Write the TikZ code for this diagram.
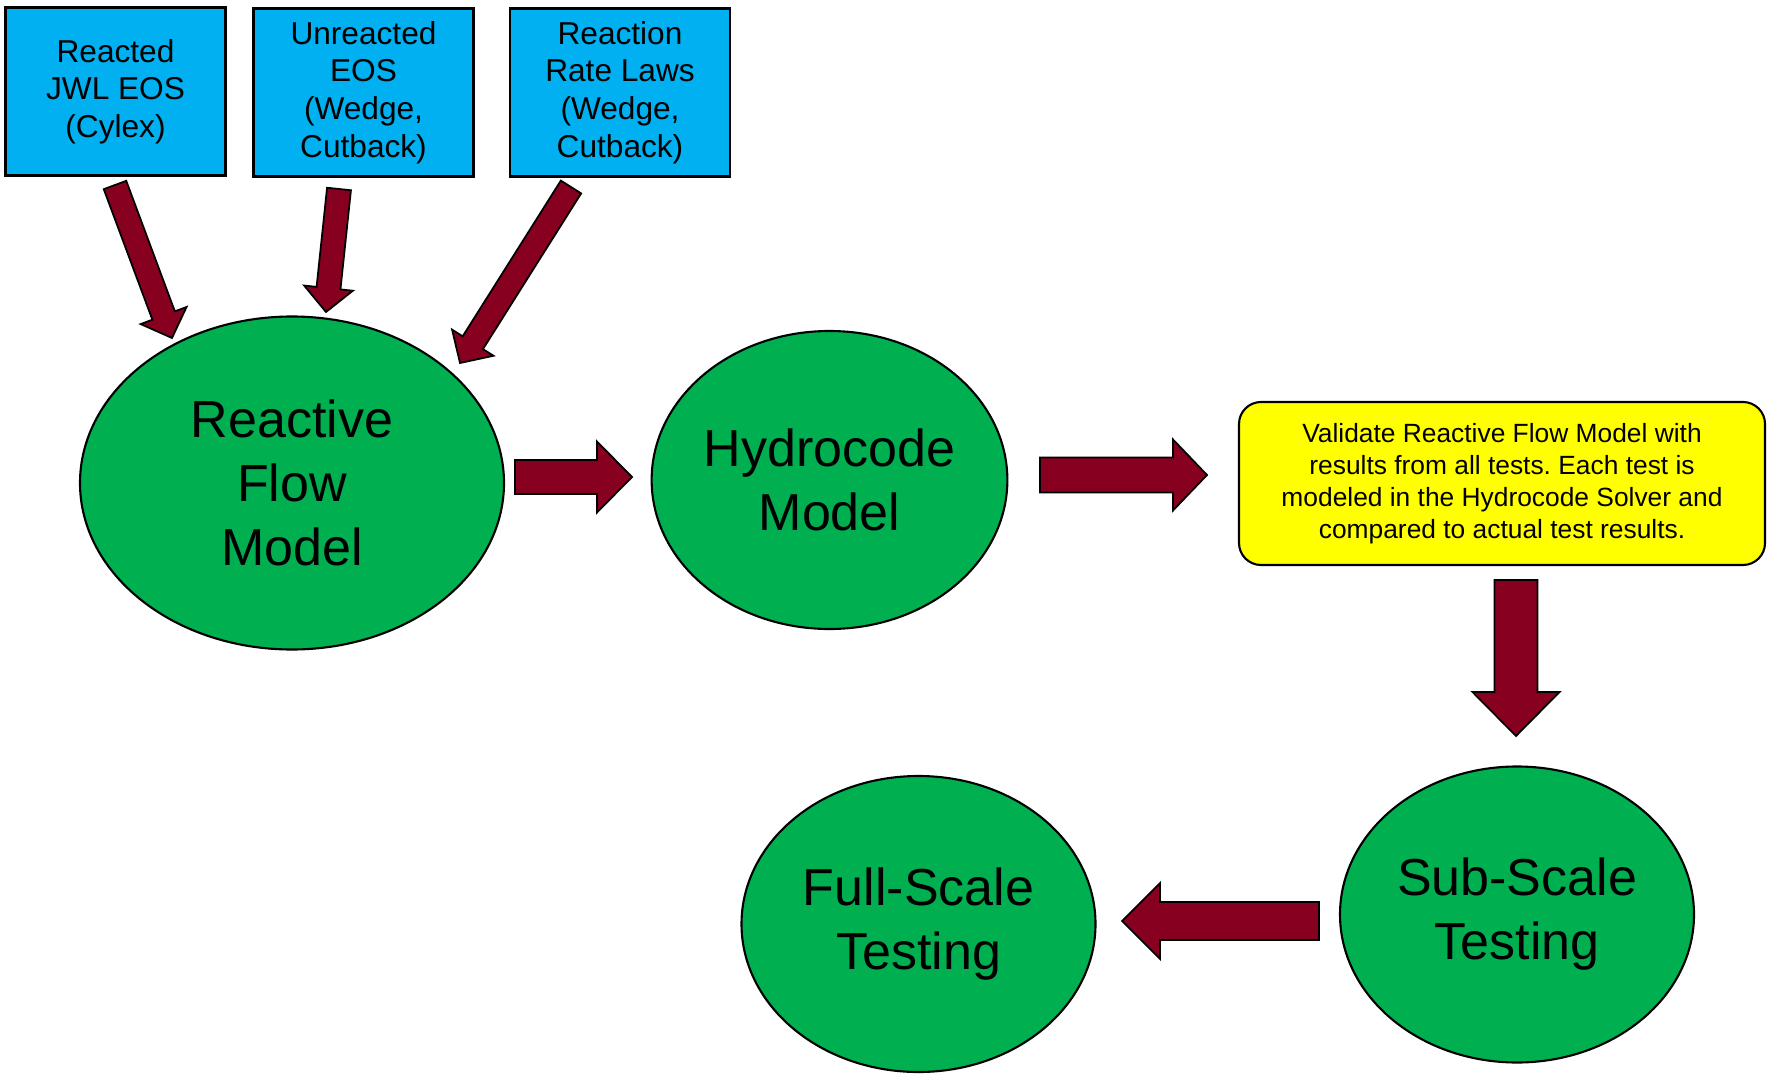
\documentclass[tikz,border=0pt]{standalone}
\usepackage{fontspec}
\setmainfont{Liberation Sans}
\usepackage{xcolor}
\usepackage{tikz}
\usetikzlibrary{calc, shapes.geometric}
\definecolor{inblue}{RGB}{0,176,240}
\definecolor{stgreen}{RGB}{0,176,80}
\definecolor{valyel}{RGB}{255,255,0}
\definecolor{arrred}{RGB}{136,0,32}
\frenchspacing
% block arrow: from, to, shaft half width, head half width, head length
\newcommand{\fatarrow}[5]{%
  \coordinate (hb) at ($(#2)!#5!(#1)$);
  \draw[fatarr] ($(#1)!#3!90:(#2)$) -- ($(hb)!#3!90:(#2)$) -- ($(hb)!#4!90:(#2)$)
    -- (#2) -- ($(hb)!#4!-90:(#2)$) -- ($(hb)!#3!-90:(#2)$) -- ($(#1)!#3!-90:(#2)$) -- cycle;}

\begin{document}
\begin{tikzpicture}[line width=0.6pt,
    inbox/.style={draw, fill=inblue, align=center, inner sep=0pt,
                  minimum width=2.2cm, minimum height=1.68cm,
                  font=\fontsize{9}{10.7}\selectfont},
    stage/.style={draw, ellipse, fill=stgreen, align=center, inner sep=0pt,
                  minimum width=3.54cm, minimum height=2.96cm,
                  font=\fontsize{14.8}{18.2}\selectfont},
    valbox/.style={draw, fill=valyel, rounded corners=0.22cm, align=center,
                   minimum width=5.26cm, minimum height=1.63cm,
                   font=\fontsize{7.5}{9.1}\selectfont},
    fatarr/.style={draw=black, fill=arrred, line width=0.5pt, line join=miter}]

    \useasboundingbox (0,0) rectangle (17.67,-10.74);

    % --- Inputs ---
    \node[inbox] (jwl)  at (1.155,-0.915) {Reacted\\JWL EOS\\(Cylex)};
    \node[inbox] (unr)  at (3.635,-0.925) {Unreacted\\EOS\\(Wedge,\\Cutback)};
    \node[inbox] (rate) at (6.20,-0.925)  {Reaction\\Rate Laws\\(Wedge,\\Cutback)};

    % --- Models ---
    \node[stage, minimum width=4.24cm, minimum height=3.33cm] (rfm) at (2.92,-4.83)
      {Reactive\\Flow\\Model};
    \node[stage, minimum height=2.98cm] (hydro) at (8.295,-4.80) {Hydrocode\\Model};

    % --- Validation ---
    \node[valbox] (val) at (15.02,-4.835)
      {Validate Reactive Flow Model with\\results from all tests. Each test is\\modeled in the Hydrocode Solver and\\compared to actual test results.};

    % --- Testing ---
    \node[stage] (sub)  at (15.17,-9.145) {Sub-Scale\\Testing};
    \node[stage] (full) at (9.185,-9.24)  {Full-Scale\\Testing};

    % --- Arrow ends ---
    \coordinate (jwl-o)  at (1.15,-1.85);
    \coordinate (jwl-i)  at (1.72,-3.38);
    \coordinate (unr-o)  at (3.39,-1.89);
    \coordinate (unr-i)  at (3.26,-3.12);
    \coordinate (rate-o) at (5.71,-1.87);
    \coordinate (rate-i) at (4.60,-3.63);
    \coordinate (rfm-o)  at (5.15,-4.77);
    \coordinate (hyd-i)  at (6.32,-4.77);
    \coordinate (hyd-o)  at (10.40,-4.75);
    \coordinate (val-i)  at (12.07,-4.75);
    \coordinate (val-o)  at (15.16,-5.80);
    \coordinate (sub-i)  at (15.16,-7.36);
    \coordinate (sub-o)  at (13.19,-9.21);
    \coordinate (full-i) at (11.22,-9.21);

    % --- Arrows ---
    \fatarrow{jwl-o}{jwl-i}{0.12cm}{0.245cm}{0.24cm}
    \fatarrow{unr-o}{unr-i}{0.12cm}{0.245cm}{0.24cm}
    \fatarrow{rate-o}{rate-i}{0.12cm}{0.245cm}{0.24cm}
    \fatarrow{rfm-o}{hyd-i}{0.17cm}{0.355cm}{0.35cm}
    \fatarrow{hyd-o}{val-i}{0.175cm}{0.355cm}{0.34cm}
    \fatarrow{val-o}{sub-i}{0.215cm}{0.435cm}{0.44cm}
    \fatarrow{sub-o}{full-i}{0.19cm}{0.38cm}{0.38cm}
\end{tikzpicture}
\end{document}
